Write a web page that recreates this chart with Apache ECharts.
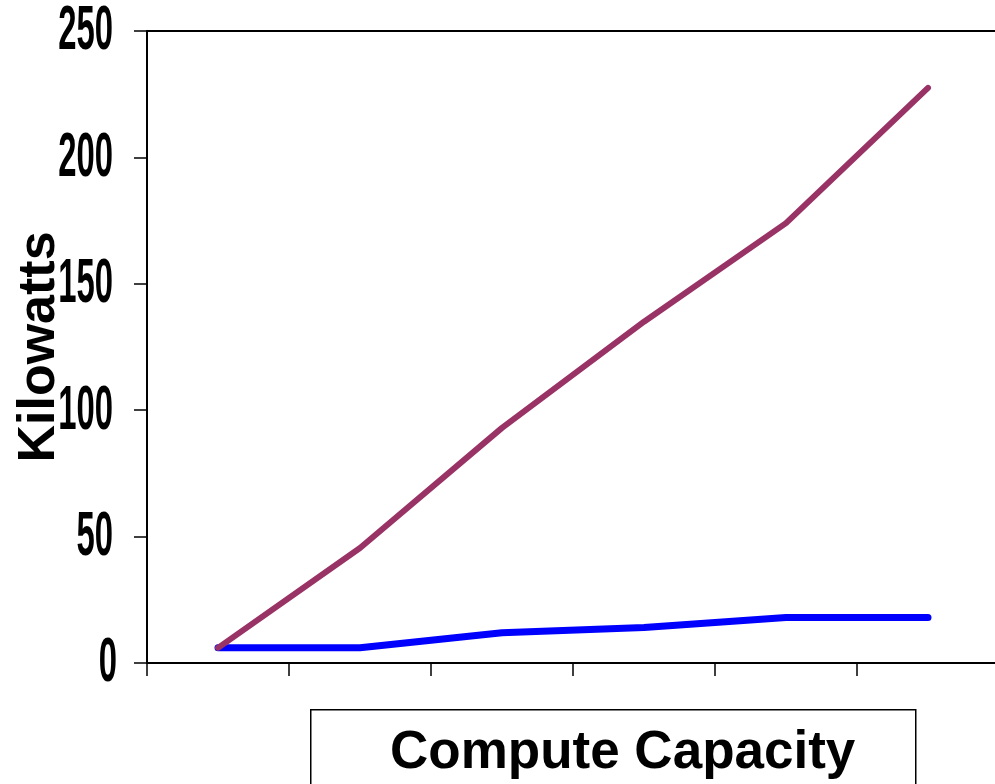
<!DOCTYPE html>
<html>
<head>
<meta charset="utf-8">
<script src="https://cdn.jsdelivr.net/npm/echarts@6/dist/echarts.min.js"></script>
<style>html,body{margin:0;padding:0;background:#fff;}#c{width:995px;height:784px;}</style>
</head>
<body>
<div id="c"></div>
<script>
var categories = ['1', '2', '3', '4', '5', '6'];
var lowPower = [6, 6, 12, 14, 18, 18];
var highPower = [6, 45.5, 93, 135, 174, 227.5];
var yTicks = [0, 50, 100, 150, 200, 250];
var yTitle = 'Kilowatts';
var xTitle = 'Compute Capacity';

var chart = echarts.init(document.getElementById('c'));
var baseGraphic = [{
  type: 'rect', left: 310, top: 709,
  shape: {width: 605, height: 90},
  style: {fill: '#fff', stroke: '#000', lineWidth: 1.5}
}, {
  type: 'text', left: 390, top: 727,
  style: {text: xTitle, fontFamily: 'Liberation Sans', fontWeight: 'bold', fontSize: 53, fill: '#000'}
}];
chart.setOption({
  animation: false,
  backgroundColor: '#fff',
  grid: {left: 147, top: 31, bottom: 121, right: -4, containLabel: false, outerBoundsMode: 'none'},
  xAxis: [{
    type: 'category', data: categories, boundaryGap: true,
    axisLine: {lineStyle: {color: '#000', width: 2}},
    axisTick: {show: true, inside: false, length: 13, lineStyle: {color: '#000', width: 1.5}},
    axisLabel: {show: false},
    splitLine: {show: false}
  }, {
    type: 'category', data: categories, position: 'top',
    axisLine: {show: true, lineStyle: {color: '#000', width: 2}},
    axisTick: {show: false}, axisLabel: {show: false}, splitLine: {show: false}
  }],
  yAxis: {
    type: 'value', min: yTicks[0], max: yTicks[yTicks.length - 1], interval: 50,
    name: yTitle, nameLocation: 'middle', nameGap: 81, nameRotate: 90,
    nameTextStyle: {fontFamily: 'Liberation Sans', fontWeight: 'bold', fontSize: 52, color: '#000'},
    axisLine: {show: true, lineStyle: {color: '#000', width: 2}},
    axisTick: {show: true, inside: false, length: 13, lineStyle: {color: '#000', width: 1.5}},
    axisLabel: {show: false},
    splitLine: {show: false}
  },
  series: [{
    type: 'line', data: lowPower, showSymbol: false, symbol: 'none',
    lineStyle: {color: '#0000FF', width: 7, cap: 'round', join: 'round'}, z: 2
  }, {
    type: 'line', data: highPower, showSymbol: false, symbol: 'none',
    lineStyle: {color: '#993366', width: 6, cap: 'round', join: 'round'}, z: 3
  }],
  graphic: baseGraphic
});

// Tall condensed tick labels, positioned through the y axis scale
var labelGraphic = yTicks.map(function (v) {
  var py = chart.convertToPixel({yAxisIndex: 0}, v);
  return {
    type: 'text', x: v === 0 ? 117 : 113, y: py + 1, scaleX: 0.82, scaleY: 1.58,
    style: {text: String(v), align: 'right', verticalAlign: 'middle',
      fontFamily: 'Liberation Sans', fontWeight: 'bold', fontSize: 40, fill: '#000'}
  };
});
chart.setOption({graphic: baseGraphic.concat(labelGraphic)}, {replaceMerge: ['graphic']});
</script>
</body>
</html>
